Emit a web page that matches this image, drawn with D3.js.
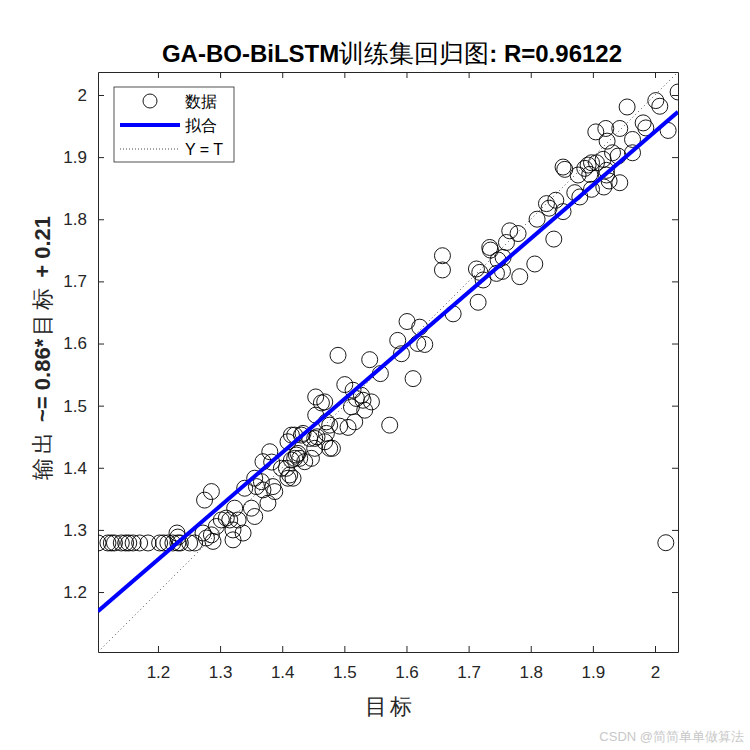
<!DOCTYPE html>
<html>
<head>
<meta charset="utf-8">
<script src="https://cdn.jsdelivr.net/npm/d3@7"></script>
<style>
  body { margin: 0; background: #fff; }
  text { font-family: "Liberation Sans", Arial, sans-serif; }
</style>
</head>
<body>
<div id="chart"></div>
<script>
// Data (target, output)
var targets = [
  1.1035, 1.1195, 1.125, 1.130, 1.141, 1.148, 1.153, 1.160, 1.1705, 1.184, 1.2027, 1.209, 1.216, 1.224, 1.232, 1.236, 1.251, 1.259,
  1.2306, 1.232, 1.2725, 1.278, 1.286, 1.2886, 1.275, 1.286,
  1.294, 1.302, 1.310, 1.3155, 1.3235, 1.329, 1.3208, 1.3208, 1.337,
  1.3396, 1.3504, 1.377, 1.3557, 1.3557, 1.3665, 1.3585, 1.369, 1.385, 1.388,
  1.380, 1.369, 1.383, 1.4068, 1.3987, 1.412, 1.4093, 1.4174, 1.4148, 1.4093, 1.4229, 1.4201, 1.4148, 1.4282, 1.4309,
  1.4254, 1.4362, 1.4201, 1.4335,
  1.4898, 1.5408, 1.558, 1.5919, 1.6106, 1.5859, 1.6181, 1.5007, 1.514, 1.5275, 1.530, 1.5194, 1.5436, 1.5114, 1.5328, 1.573,
  1.4539, 1.4631, 1.4684, 1.4539, 1.4711, 1.4764, 1.4925, 1.5059, 1.5167, 1.4442, 1.4523, 1.456, 1.4711, 1.4684, 1.4523, 1.4764, 1.4808, 1.447,
  1.6579, 1.6579, 1.7662, 1.7796, 1.7609, 1.734, 1.7352, 1.7555, 1.7474, 1.7126, 1.718, 1.7233, 1.7448, 1.7545, 1.7823, 1.8065, 1.8371,
  1.7153, 1.6751, 1.6009, 1.6213, 1.6294,
  2.0372, 2.0013, 2.0077, 1.9551, 1.9809, 1.9852, 2.0211, 1.9208, 1.9433, 1.9047, 1.9229, 1.9638, 1.9316, 1.9406, 1.9638, 1.9165,
  1.9058, 1.8978, 1.8923, 1.887, 1.852, 1.8548, 1.8762, 1.895, 1.9219, 1.9219, 1.9261, 1.9433, 1.9176, 1.8978, 1.8709, 1.879,
  1.8253, 1.8295, 1.8403, 1.852, 1.8102,
  2.0174
];
var outputs = [
  1.279, 1.279, 1.279, 1.279, 1.279, 1.279, 1.279, 1.279, 1.279, 1.279, 1.279, 1.279, 1.279, 1.279, 1.279, 1.279, 1.279, 1.279,
  1.295, 1.2885, 1.295, 1.287, 1.292, 1.2815, 1.348, 1.3617,
  1.3055, 1.316, 1.319, 1.316, 1.335, 1.316, 1.300, 1.284, 1.295,
  1.3671, 1.335, 1.343, 1.3216, 1.3832, 1.3777, 1.3697, 1.3644, 1.3697, 1.3617,
  1.4258, 1.4098, 1.4092, 1.3992, 1.3992, 1.3884, 1.3832, 1.3832, 1.4526, 1.4419, 1.4205, 1.4152, 1.4125, 1.4152, 1.4526,
  1.4232, 1.4098, 1.4526, 1.4553,
  1.581, 1.574, 1.5516, 1.5836, 1.5435, 1.605, 1.6001, 1.5339, 1.5248, 1.5167, 1.5087, 1.5115, 1.506, 1.498, 1.4927, 1.4686,
  1.514, 1.5044, 1.506, 1.4847, 1.4739, 1.4686, 1.467, 1.465, 1.4739, 1.4473, 1.4473, 1.4499, 1.4553, 1.4419, 1.4313, 1.4313, 1.4313, 1.4152,
  1.7413, 1.7184, 1.7814, 1.777, 1.7626, 1.7546, 1.7504, 1.7386, 1.7344, 1.72, 1.7145, 1.7023, 1.7129, 1.7161, 1.7076, 1.728, 1.7681,
  1.6664, 1.6478, 1.6354, 1.6263, 1.5985,
  2.0048, 1.991, 1.9819, 1.9807, 1.9551, 1.947, 1.9429, 1.9461, 1.9461, 1.9406, 1.9257, 1.9284, 1.907, 1.9017, 1.907, 1.8964,
  1.8909, 1.8909, 1.8872, 1.8819, 1.884, 1.8803, 1.8712, 1.8723, 1.8787, 1.8712, 1.8616, 1.8588, 1.8519, 1.8482, 1.8428, 1.8359,
  1.8252, 1.8178, 1.8306, 1.8123, 1.8001,
  1.2794
];

var tickValues = [1.2, 1.3, 1.4, 1.5, 1.6, 1.7, 1.8, 1.9, 2];
var axisLimits = [1.1035, 2.037];
var fitSlope = 0.861;
var fitIntercept = 0.219;
var legendLabels = ["数据", "拟合", "Y = T"];

var svgWidth = 750;
var svgHeight = 750;
var margin = { top: 72, right: 72, bottom: 98, left: 98 };
var width = svgWidth - margin.left - margin.right;
var height = svgHeight - margin.top - margin.bottom;

var svg = d3.select("#chart")
  .append("svg")
  .attr("width", svgWidth)
  .attr("height", svgHeight);

var chartGroup = svg.append("g")
  .attr("transform", `translate(${margin.left}, ${margin.top})`);

// scales - same limits on both axes
var xScale = d3.scaleLinear().domain(axisLimits).range([0, width]);
var yScale = d3.scaleLinear().domain(axisLimits).range([height, 0]);

chartGroup.append("clipPath").attr("id", "plotclip")
  .append("rect").attr("width", width).attr("height", height);

// ticks point inwards like matlab, mirrored on top/right
var fmt = d => d3.format("")(+d.toFixed(1));
chartGroup.append("g")
  .attr("transform", `translate(0, ${height})`)
  .call(d3.axisBottom(xScale).tickValues(tickValues).tickSizeInner(-6).tickSizeOuter(0).tickPadding(14).tickFormat(fmt))
  .call(g => g.selectAll("text").attr("font-size", 17).attr("fill", "#262626"));
chartGroup.append("g")
  .call(d3.axisLeft(yScale).tickValues(tickValues).tickSizeInner(-6).tickSizeOuter(0).tickPadding(11).tickFormat(fmt))
  .call(g => g.selectAll("text").attr("font-size", 17).attr("fill", "#262626"));
chartGroup.append("g")
  .call(d3.axisTop(xScale).tickValues(tickValues).tickSizeInner(-6).tickSizeOuter(0).tickFormat(""));
chartGroup.append("g")
  .attr("transform", `translate(${width}, 0)`)
  .call(d3.axisRight(yScale).tickValues(tickValues).tickSizeInner(-6).tickSizeOuter(0).tickFormat(""));
chartGroup.selectAll(".domain").attr("stroke", "#262626");
chartGroup.selectAll(".tick line").attr("stroke", "#262626");

var plotArea = chartGroup.append("g").attr("clip-path", "url(#plotclip)");

// Y = T dotted line
plotArea.append("line")
  .attr("x1", xScale(axisLimits[0])).attr("y1", yScale(axisLimits[0]))
  .attr("x2", xScale(axisLimits[1])).attr("y2", yScale(axisLimits[1]))
  .attr("stroke", "#333").attr("stroke-width", 0.9)
  .attr("stroke-dasharray", "1,3");

// scatter circles
plotArea.selectAll("circle.pt")
  .data(d3.range(targets.length))
  .enter()
  .append("circle")
  .attr("class", "pt")
  .attr("cx", i => xScale(targets[i]))
  .attr("cy", i => yScale(outputs[i]))
  .attr("r", 8)
  .attr("fill", "none")
  .attr("stroke", "#000")
  .attr("stroke-width", 0.9);

// fit line
plotArea.append("line")
  .attr("x1", xScale(axisLimits[0])).attr("y1", yScale(fitSlope * axisLimits[0] + fitIntercept))
  .attr("x2", xScale(axisLimits[1])).attr("y2", yScale(fitSlope * axisLimits[1] + fitIntercept))
  .attr("stroke", "#0000ff").attr("stroke-width", 4);

// legend
var legend = svg.append("g").attr("transform", "translate(114, 87)");
legend.append("rect")
  .attr("width", 120).attr("height", 75)
  .attr("fill", "#fff").attr("stroke", "#262626").attr("stroke-width", 0.8);
legend.append("circle").attr("cx", 36).attr("cy", 14).attr("r", 7)
  .attr("fill", "none").attr("stroke", "#000").attr("stroke-width", 0.9);
legend.append("line").attr("x1", 6).attr("x2", 66).attr("y1", 38).attr("y2", 38)
  .attr("stroke", "#0000ff").attr("stroke-width", 4);
legend.append("line").attr("x1", 6).attr("x2", 66).attr("y1", 62).attr("y2", 62)
  .attr("stroke", "#333").attr("stroke-width", 0.9).attr("stroke-dasharray", "1,2");
legend.selectAll("text.leg")
  .data(legendLabels)
  .enter()
  .append("text")
  .attr("class", "leg")
  .attr("x", 71)
  .attr("y", (d, i) => 14 + i * 24)
  .attr("dy", "0.36em")
  .attr("font-size", 16)
  .attr("fill", "#000")
  .text(d => d);

// title (latin part bold, chinese part regular)
var title = svg.append("text")
  .attr("x", margin.left + width / 2 + 4)
  .attr("y", 62)
  .attr("text-anchor", "middle")
  .attr("font-size", 24)
  .attr("fill", "#000");
title.append("tspan").attr("font-weight", "bold").text("GA-BO-BiLSTM");
title.append("tspan").attr("font-size", 25).text("训练集回归图");
title.append("tspan").attr("font-weight", "bold").text(": R=0.96122");

// axis labels
svg.append("text")
  .attr("x", margin.left + width / 2 + 2)
  .attr("y", 714)
  .attr("text-anchor", "middle")
  .attr("font-size", 22)
  .attr("letter-spacing", 3)
  .attr("fill", "#262626")
  .text("目标");

var ylab = svg.append("text")
  .attr("transform", `translate(50, 348) rotate(-90)`)
  .attr("text-anchor", "middle")
  .attr("font-size", 22)
  .attr("fill", "#262626");
ylab.append("tspan").attr("letter-spacing", 4).text("输出");
ylab.append("tspan").attr("font-weight", "bold").text(" ~= 0.86*");
ylab.append("tspan").attr("dx", 3).attr("letter-spacing", 4).text("目标");
ylab.append("tspan").attr("font-weight", "bold").text(" + 0.21");

// watermark in the corner
svg.append("text")
  .attr("x", 744).attr("y", 741)
  .attr("text-anchor", "end")
  .attr("font-size", 13)
  .attr("fill", "#c8c8c8")
  .text("CSDN @简简单单做算法");
</script>
</body>
</html>
